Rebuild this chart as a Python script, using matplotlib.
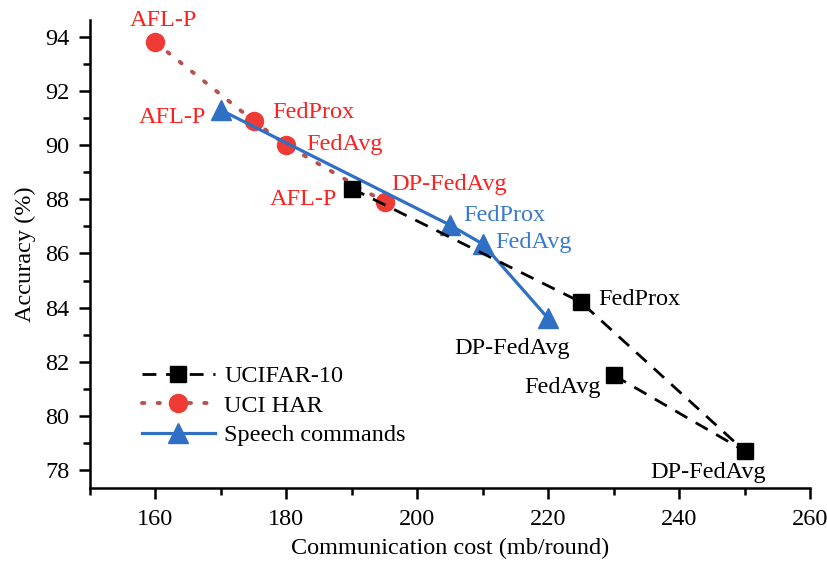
import numpy as np
import matplotlib
matplotlib.use('Agg')
import matplotlib.pyplot as plt
from matplotlib.ticker import MultipleLocator

plt.rcParams['font.family'] = ['Liberation Serif', 'DejaVu Serif']

# data (line order as drawn)
names_cifar = ['AFL-P', 'FedProx', 'DP-FedAvg', 'FedAvg']
cost_cifar = [190, 225, 250, 230]
acc_cifar = [88.4, 84.2, 78.7, 81.5]

names_har = ['AFL-P', 'FedProx', 'FedAvg', 'DP-FedAvg']
cost_har = [160, 175, 180, 195]
acc_har = [93.8, 90.9, 90.0, 87.9]

names_speech = ['AFL-P', 'FedProx', 'FedAvg', 'DP-FedAvg']
cost_speech = [170, 205, 210, 220]
acc_speech = [91.3, 87.05, 86.35, 83.6]

RED = '#ee3b35'
DOT = '#b8504d'
BLUE = '#2f6fc4'
TXT_RED = '#ff1f1f'
TXT_BLUE = '#3a7acc'

# label placement: (dx, dy in pixels, ha, colour)
lab_cifar = [(-15, -11, 'right', TXT_RED), (17, 3, 'left', 'black'),
             (-36, -22, 'center', 'black'), (-13, -12, 'right', 'black')]
lab_har = [(8, 22, 'center', TXT_RED), (19, 8, 'left', TXT_RED),
           (20, 1, 'left', TXT_RED), (7, 18, 'left', TXT_RED)]
lab_speech = [(-15, -7, 'right', TXT_RED), (13, 10, 'left', TXT_BLUE),
              (13, 1, 'left', TXT_BLUE), (-36, -30, 'center', 'black')]


def label_points(ax, xs, ys, names, layout):
    for x, y, n, (dx, dy, ha, c) in zip(xs, ys, names, layout):
        ax.annotate(n, (x, y), xytext=(dx, dy), textcoords='offset pixels',
                    ha=ha, va='center', fontsize=17.5, color=c)


def main():
    fig = plt.figure(figsize=(8.28, 5.69), dpi=100)
    ax = fig.add_axes([90 / 828, 1 - 488 / 569, 720 / 828, 468 / 569])

    ax.plot(cost_har, acc_har, linestyle=(0, (0.6, 3.4)), color=DOT, lw=2.8,
            dash_capstyle='round', marker='o', ms=13, mfc=RED, mec=RED,
            label='UCI HAR', zorder=2)
    ax.plot(cost_speech, acc_speech, '-', color=BLUE, lw=2.3,
            marker='^', ms=14, mfc=BLUE, mec=BLUE,
            label='Speech commands', zorder=3)
    ax.plot(cost_cifar, acc_cifar, linestyle=(0, (5, 3.5)), color='black',
            lw=2.0, marker='s', ms=11, label='UCIFAR-10', zorder=4)

    label_points(ax, cost_har, acc_har, names_har, lab_har)
    label_points(ax, cost_speech, acc_speech, names_speech, lab_speech)
    label_points(ax, cost_cifar, acc_cifar, names_cifar, lab_cifar)

    ax.set_xlim(150, 260)
    ax.set_ylim(77.33, 94.63)
    ax.xaxis.set_major_locator(MultipleLocator(20))
    ax.xaxis.set_minor_locator(MultipleLocator(10))
    ax.yaxis.set_major_locator(MultipleLocator(2))
    ax.yaxis.set_minor_locator(MultipleLocator(1))
    ax.tick_params(which='major', length=8, width=1.8, labelsize=17.5, pad=7)
    ax.tick_params(which='minor', length=5, width=1.8)
    for s in ['top', 'right']:
        ax.spines[s].set_visible(False)
    for s in ['left', 'bottom']:
        ax.spines[s].set_linewidth(1.8)

    ax.set_xlabel('Communication cost (mb/round)', fontsize=17.5, labelpad=6)
    ax.set_ylabel('Accuracy (%)', fontsize=17.5, labelpad=6)

    h, l = ax.get_legend_handles_labels()
    order = [2, 0, 1]
    ax.legend([h[i] for i in order], [l[i] for i in order],
              loc='upper left', bbox_to_anchor=(0.072, 0.262),
              frameon=False, fontsize=17.5, handlelength=3.0,
              handletextpad=0.4, labelspacing=0.3,
              borderpad=0, borderaxespad=0)

    fig.savefig('out.png', dpi=100)


if __name__ == '__main__':
    main()
